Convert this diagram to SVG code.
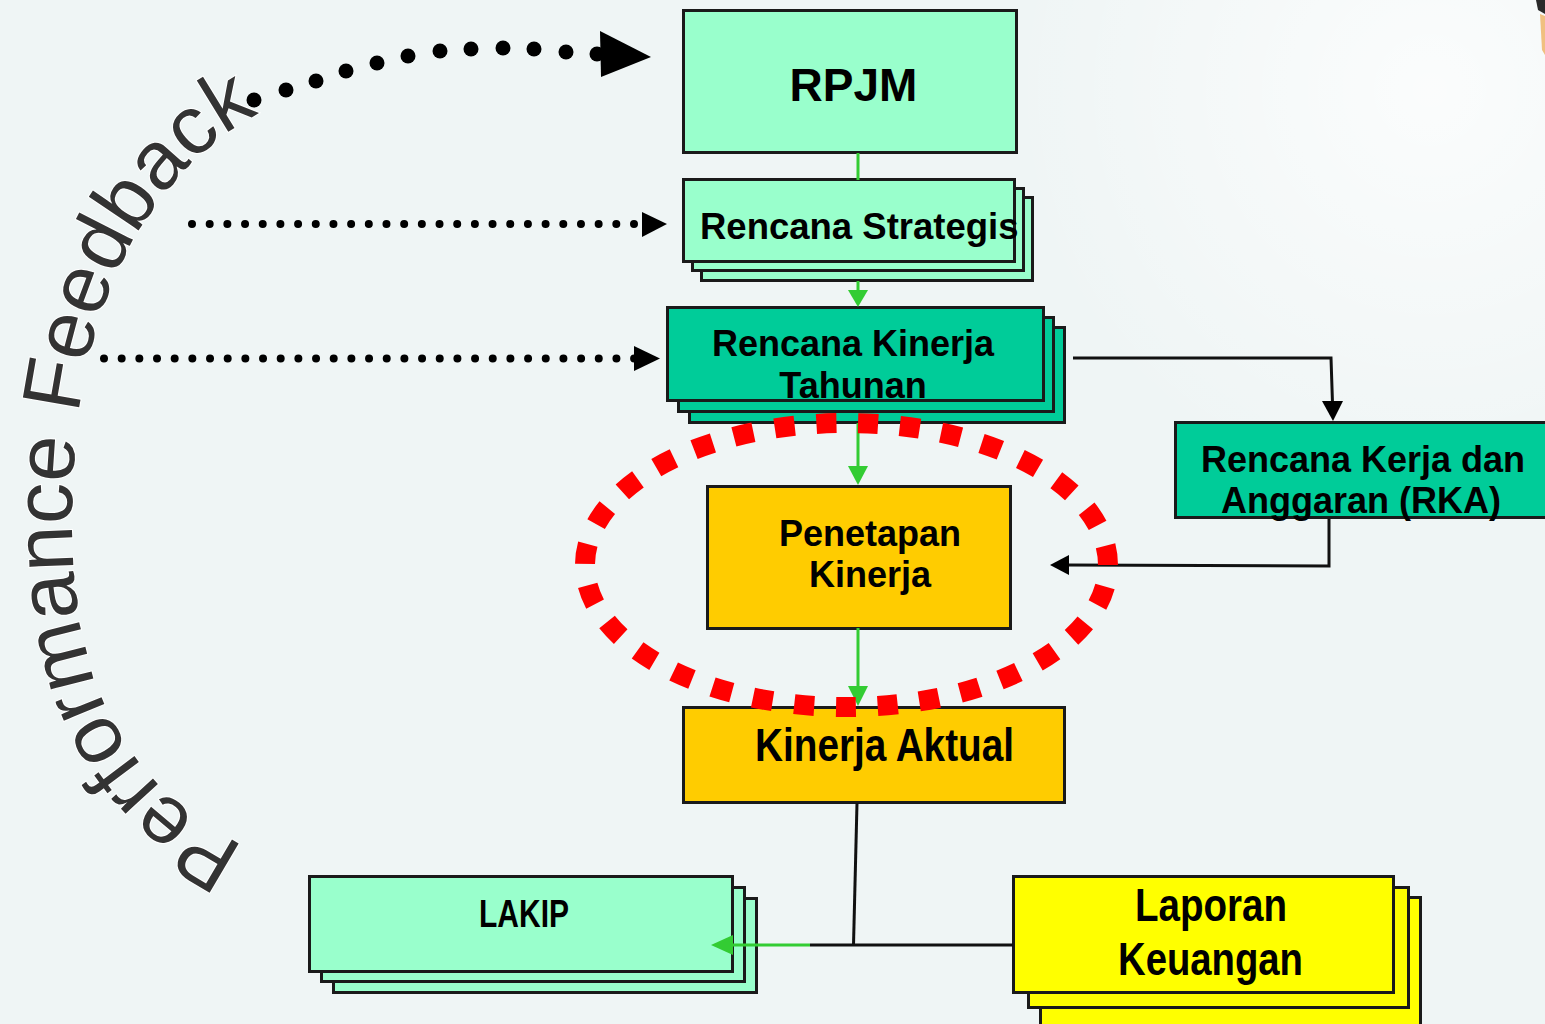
<svg xmlns="http://www.w3.org/2000/svg" width="1545" height="1024" viewBox="0 0 1545 1024">
<defs>
<style>
.bx{stroke:#1a1a1a;stroke-width:3}
.mint{fill:#99FFCC}
.teal{fill:#00CC99}
.org{fill:#FFCC00}
.yel{fill:#FFFF00}
.b{font-family:"Liberation Sans",Arial,sans-serif;font-weight:bold;fill:#000}
.n{font-family:"Liberation Sans Narrow","Liberation Sans",Arial,sans-serif;font-weight:bold;fill:#000}
.blk{stroke:#111;stroke-width:3;fill:none}
.grn{stroke:#33CC33;stroke-width:3;fill:none}
.dot{stroke:#000;stroke-width:8;stroke-linecap:round;fill:none}
.pf{font-family:"Liberation Sans",Arial,sans-serif;font-size:83px;fill:#333;stroke:#fff;stroke-width:2;paint-order:stroke}
</style>
<radialGradient id="glow" cx="1430" cy="90" r="420" gradientUnits="userSpaceOnUse">
<stop offset="0" stop-color="#ffffff" stop-opacity="0.75"/>
<stop offset="1" stop-color="#ffffff" stop-opacity="0"/>
</radialGradient>
<path id="arc" d="M 245 846 C 115 782, 72 670, 72 520 C 72 350, 116 231, 205 151 C 235 124, 270 105, 320 90"/>
</defs>
<rect x="0" y="0" width="1545" height="1024" fill="#EFF5F5"/>
<rect x="0" y="0" width="1545" height="1024" fill="url(#glow)"/>
<path d="M1536 0 L1545 0 L1545 14 L1538 10 Z" fill="#2a2a2a"/>
<path d="M1540 14 L1545 16 L1545 55 L1542 50 Z" fill="#f0c080"/>

<g id="title">
<text class="pf"><textPath href="#arc">Performance Feedback</textPath></text>
</g>

<g id="rpjm">
<rect class="bx mint" x="683.5" y="10.5" width="333" height="142"/>
<text class="b" x="853.5" y="101" font-size="46" text-anchor="middle">RPJM</text>
</g>

<g id="renstra">
<rect class="bx mint" x="701.5" y="197.5" width="331" height="83"/>
<rect class="bx mint" x="692.5" y="188.5" width="331" height="82"/>
<rect class="bx mint" x="683.5" y="179.5" width="331" height="82"/>
<text class="b" x="700" y="239" font-size="36.5">Rencana Strategis</text>
</g>

<g id="rkt">
<rect class="bx teal" x="689.5" y="327.5" width="375" height="95"/>
<rect class="bx teal" x="678.5" y="317.5" width="375" height="94"/>
<rect class="bx teal" x="667.5" y="307.5" width="376" height="93"/>
<text class="b" x="853" y="356" font-size="36" text-anchor="middle">Rencana Kinerja</text>
<text class="b" x="853" y="398" font-size="36" text-anchor="middle">Tahunan</text>
</g>

<g id="rka">
<rect class="bx teal" x="1175.5" y="422.5" width="380" height="95"/>
<text class="b" x="1363" y="472" font-size="36" text-anchor="middle">Rencana Kerja dan</text>
<text class="b" x="1361" y="513" font-size="36" text-anchor="middle">Anggaran (RKA)</text>
</g>

<g id="penetapan">
<rect class="bx org" x="707.5" y="486.5" width="303" height="142"/>
<text class="b" x="870" y="546" font-size="36" text-anchor="middle">Penetapan</text>
<text class="b" x="870" y="587" font-size="36" text-anchor="middle">Kinerja</text>
</g>

<g id="aktual">
<rect class="bx org" x="683.5" y="707.5" width="381" height="95"/>
<text class="n" x="755" y="761" font-size="46" textLength="259" lengthAdjust="spacingAndGlyphs">Kinerja Aktual</text>
</g>

<g id="lakip">
<rect class="bx mint" x="333.5" y="898.5" width="423" height="94"/>
<rect class="bx mint" x="321.5" y="887.5" width="423" height="94"/>
<rect class="bx mint" x="309.5" y="876.5" width="423" height="95"/>
<text class="n" x="479" y="927" font-size="38" textLength="90" lengthAdjust="spacingAndGlyphs">LAKIP</text>
</g>

<g id="laporan">
<rect class="bx yel" x="1040.5" y="897.5" width="380" height="140"/>
<rect class="bx yel" x="1028.5" y="887.5" width="380" height="120"/>
<rect class="bx yel" x="1013.5" y="876.5" width="380" height="116"/>
<text class="n" x="1135" y="921" font-size="46" textLength="152" lengthAdjust="spacingAndGlyphs">Laporan</text>
<text class="n" x="1118" y="975" font-size="46" textLength="185" lengthAdjust="spacingAndGlyphs">Keuangan</text>
</g>

<g id="connectors">
<!-- feedback dotted arrows -->
<g fill="#000">
<circle cx="254" cy="100" r="7.5"/><circle cx="286" cy="90" r="7.5"/><circle cx="316" cy="81" r="7.5"/>
<circle cx="346" cy="71" r="7.5"/><circle cx="377" cy="63" r="7.5"/><circle cx="408" cy="56" r="7.5"/>
<circle cx="440" cy="51" r="7.5"/><circle cx="471" cy="49" r="7.5"/><circle cx="503" cy="48" r="7.5"/>
<circle cx="534" cy="49" r="7.5"/><circle cx="566" cy="52" r="7.5"/><circle cx="597" cy="54" r="7.5"/>
<polygon points="600,31 651,57 601,77"/>
</g>
<path class="dot" d="M192 224 H634.5" stroke-dasharray="0 17.68"/>
<polygon points="642,212 667,224 642,237" fill="#000"/>
<path class="dot" d="M104 358.5 H634.5" stroke-dasharray="0 17.67"/>
<polygon points="634,346 660,358.5 634,371" fill="#000"/>
<!-- green flow -->
<path class="grn" d="M858 153 V180"/>
<path class="grn" d="M858 281 V292"/>
<polygon points="848,290 868,290 858,307" fill="#33CC33"/>
<path class="grn" d="M858 423 V468"/>
<polygon points="848,466 868,466 858,485" fill="#33CC33"/>
<path class="grn" d="M858 628 V688"/>
<polygon points="848,686 868,686 858,706" fill="#33CC33"/>
<!-- RKT to RKA -->
<path class="blk" d="M1073 358 H1331 L1332.5 403"/>
<polygon points="1322,401 1343,401 1333,421" fill="#000"/>
<!-- RKA to Penetapan -->
<path class="blk" d="M1329 519 V566 L1067 565"/>
<polygon points="1069,555 1069,575 1050,565" fill="#000"/>
<!-- Kinerja Aktual to reports -->
<path class="blk" d="M857 803 L853.5 945"/>
<path class="blk" d="M810 945 H1013"/>
<path class="grn" d="M731 945 H810"/>
<polygon points="733,935 733,955 711,945" fill="#33CC33"/>
</g>

<g id="focus">
<ellipse cx="846.5" cy="565" rx="261.5" ry="142" fill="none" stroke="#FF0000" stroke-width="20" stroke-dasharray="20 21.79" stroke-dashoffset="20"/>
</g>
</svg>
